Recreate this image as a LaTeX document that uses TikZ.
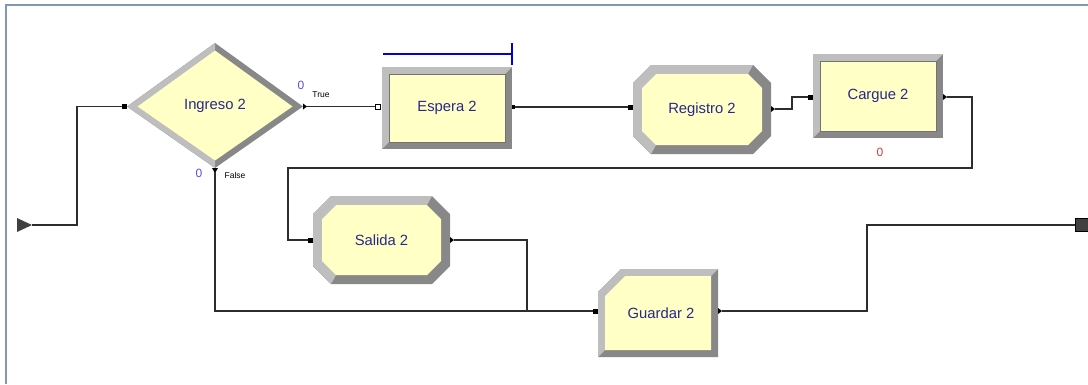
\documentclass[tikz,border=0pt]{standalone}
\usepackage{fontspec}
\setmainfont{Liberation Sans}
\definecolor{modfill}{RGB}{255,255,198}
\definecolor{bvlight}{RGB}{190,190,190}
\definecolor{bvdark}{RGB}{136,136,136}
\definecolor{modtext}{RGB}{40,40,140}
\definecolor{wire}{RGB}{45,45,45}
\definecolor{framecol}{RGB}{130,152,178}
\definecolor{cntblue}{RGB}{90,80,210}
\definecolor{cntred}{RGB}{210,60,60}
\tikzset{
  modlabel/.style={text=modtext, font=\fontsize{14.8}{16}\selectfont, inner sep=0pt},
  conn/.style={draw=wire, line width=1.2pt},
  cnt/.style={font=\fontsize{12}{13}\selectfont, inner sep=0pt},
  tag/.style={font=\fontsize{8.5}{10}\selectfont, inner sep=0pt},
  portmark/.style={fill=black},
}
% rectangle module: name, L, T, R, B, text
\newcommand\RectMod[6]{%
  \fill[bvdark] (#2,#3) rectangle (#4,#5);
  \fill[bvlight] (#2,#5) -- (#2,#3) -- (#4,#3) -- (#4-7,#3+7) -- (#2+7,#3+7) -- (#2+7,#5-7) -- cycle;
  \fill[modfill] (#2+7,#3+7) rectangle (#4-7,#5-7);
  \draw[black!55, line width=0.5pt] (#2+7,#3+7) rectangle (#4-7,#5-7);
  \node[modlabel] (#1) at ({(#2+#4)/2},{(#3+#5)/2}) {#6};
}
% octagon module
\newcommand\OctMod[6]{%
  \fill[bvdark] (#2+18,#3) -- (#4-18,#3) -- (#4,#3+18) -- (#4,#5-18) -- (#4-18,#5) -- (#2+18,#5) -- (#2,#5-18) -- (#2,#3+18) -- cycle;
  \fill[bvlight] (#2+18,#5) -- (#2,#5-18) -- (#2,#3+18) -- (#2+18,#3) -- (#4-18,#3) -- (#4-23,#3+9) -- (#2+23,#3+9) -- (#2+9,#3+23) -- (#2+9,#5-23) -- (#2+23,#5-9) -- cycle;
  \fill[modfill] (#2+23,#3+9) -- (#4-23,#3+9) -- (#4-9,#3+23) -- (#4-9,#5-23) -- (#4-23,#5-9) -- (#2+23,#5-9) -- (#2+9,#5-23) -- (#2+9,#3+23) -- cycle;
  \node[modlabel] (#1) at ({(#2+#4)/2},{(#3+#5)/2}) {#6};
}
% record-like module with chamfered top-left corner
\newcommand\ChamMod[6]{%
  \fill[bvdark] (#2+23,#3) -- (#4,#3) -- (#4,#5) -- (#2,#5) -- (#2,#3+23) -- cycle;
  \fill[bvlight] (#2,#5) -- (#2,#3+23) -- (#2+23,#3) -- (#4,#3) -- (#4-7,#3+7) -- (#2+27,#3+7) -- (#2+7,#3+27) -- (#2+7,#5-7) -- cycle;
  \fill[modfill] (#2+27,#3+7) -- (#4-7,#3+7) -- (#4-7,#5-7) -- (#2+7,#5-7) -- (#2+7,#3+27) -- cycle;
  \node[modlabel] (#1) at ({(#2+#4)/2+3},{(#3+#5)/2}) {#6};
}
\newcommand\InPort[2]{\fill[portmark] (#1-5,#2-2.5) rectangle (#1,#2+2.5);}
\newcommand\OutPort[2]{\fill[portmark] (#1,#2-3) -- (#1+4,#2) -- (#1,#2+3) -- cycle;}
\begin{document}
\begin{tikzpicture}[x=1pt,y=-1pt]
\useasboundingbox (0,0) rectangle (1088,384);
\fill[white] (0,0) rectangle (1088,384);
% frame
\draw[framecol, line width=2pt] (6,384) -- (6,5) -- (1088,5);

% start
\fill[black!75] (17,218) -- (32,225) -- (17,232) -- cycle;
\coordinate (start) at (32,225);

% Ingreso 2 (decide)
\fill[bvdark] (127,106.5) -- (215,43) -- (303,106.5) -- (215,168) -- cycle;
\fill[bvlight] (215,43) -- (127,106.5) -- (215,168) -- (215,160.5) -- (137.5,106.5) -- (215,50.5) -- cycle;
\fill[modfill] (137.5,106.5) -- (215,50.5) -- (292.5,106.5) -- (215,160.5) -- cycle;
\node[modlabel] (ingreso) at (215,106) {Ingreso 2};
\coordinate (ing-in) at (122,106.5);
\coordinate (ing-true) at (307,106.5);
\coordinate (ing-false) at (215,172);
\InPort{127}{106.5}
\OutPort{303}{106.5}
\fill[portmark] (212,168) -- (218,168) -- (215,173) -- cycle;
\node[cnt, text=cntblue] (cnt-true) at (301,85) {0};
\node[tag] (lbl-true) at (321,95) {True};
\node[cnt, text=cntblue] (cnt-false) at (199,173) {0};
\node[tag] (lbl-false) at (235,175) {False};

% Espera 2
\RectMod{espera}{382}{67}{512}{149}{Espera 2}
\draw[blue!85!black, line width=1.2pt] (383,54) -- (512,54) (512,43) -- (512,65);
\draw[black, line width=0.6pt, fill=white] (375,104) rectangle (380,109);
\coordinate (esp-in) at (375,106.5);
\coordinate (esp-out) at (515,107);
\fill[portmark] (512,105) rectangle (515,109);

% Registro 2
\OctMod{registro}{633}{65}{771}{154}{Registro 2}
\InPort{633}{107}
\OutPort{771}{109}
\coordinate (reg-in) at (628,107);
\coordinate (reg-out) at (775,109);

% Cargue 2
\RectMod{cargue}{813}{54}{943}{138}{Cargue 2}
\InPort{813}{97}
\OutPort{943}{97}
\coordinate (car-in) at (808,97);
\coordinate (car-out) at (947,97);
\node[cnt, text=cntred] (cnt-cargue) at (880,152) {0};

% Salida 2
\OctMod{salida}{313}{196}{450}{284}{Salida 2}
\InPort{313}{240}
\OutPort{450}{240}
\coordinate (sal-in) at (308,240);
\coordinate (sal-out) at (454,240);

% Guardar 2
\ChamMod{guardar}{598}{269}{718}{357}{Guardar 2}
\InPort{598}{311}
\OutPort{718}{311}
\coordinate (gua-in) at (593,311);
\coordinate (gua-out) at (722,311);

% end
\node[draw=black, fill=black!75, minimum size=13pt, inner sep=0pt, anchor=west] (dispose) at (1075,225) {};

% connectors
\draw[conn] (start) -- (77,225) |- (ing-in);
\draw[conn] (ing-true) -- (esp-in);
\draw[conn] (esp-out) -- (reg-in);
\draw[conn] (reg-out) -- (792,109) |- (car-in);
\draw[conn] (car-out) -- (972,97) -- (972,168) -- (288,168) |- (sal-in);
\draw[conn] (sal-out) -- (527,240) -- (527,311);
\draw[conn] (ing-false) |- (gua-in);
\draw[conn] (gua-out) -- (867,311) |- (dispose.west);
\end{tikzpicture}
\end{document}
